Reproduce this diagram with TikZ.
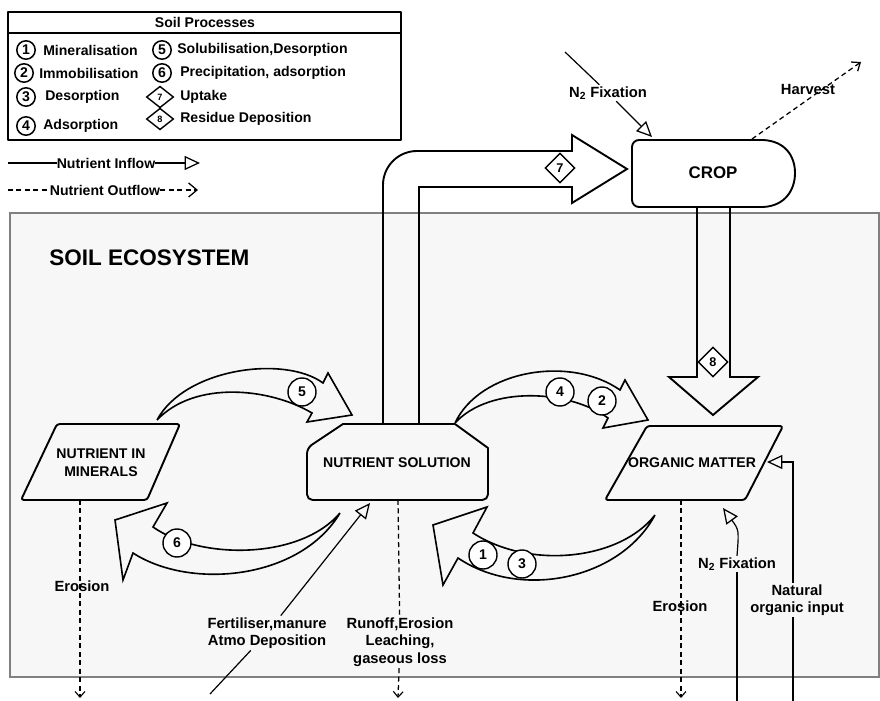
\documentclass[tikz,border=0pt]{standalone}
\usepackage{fontspec}
\setmainfont{Liberation Sans}
\usetikzlibrary{positioning,arrows.meta,shapes.geometric}

\begin{document}
\begin{tikzpicture}[x=0.025cm,y=-0.025cm]
\tikzset{T/.style={font=\bfseries\fontsize{10.5}{12.5}\selectfont,inner sep=1pt,align=center}}
\tikzset{L/.style={font=\bfseries\fontsize{10}{12}\selectfont,anchor=west,inner sep=0pt}}
\tikzset{S/.style={font=\bfseries\fontsize{10}{12.5}\selectfont,align=center,inner sep=0pt}}
\tikzset{N/.style={circle,draw=black,line width=1pt,fill=white,inner sep=0pt,minimum size=0.7cm,font=\bfseries\fontsize{10}{10}\selectfont}}
\tikzset{Ns/.style={N,minimum size=0.46cm,line width=1.1pt}}
\tikzset{D/.style={diamond,draw=black,line width=1pt,fill=white,inner sep=0pt,minimum size=0.75cm,font=\bfseries\fontsize{9}{9}\selectfont}}
\tikzset{Ds/.style={D,aspect=1.3,minimum size=0pt,minimum width=0.68cm,minimum height=0.54cm,font=\bfseries\fontsize{6.5}{6.5}\selectfont}}
\tikzset{box/.style={draw=black,line width=1.35pt,line join=round}}
\tikzset{flow/.style={draw=black,line width=1.15pt,line join=miter}}
\tikzset{inarr/.style={draw=black,line width=0.85pt,-{Triangle[open,length=11pt,width=10pt,line width=0.9pt]}}}
\tikzset{outarr/.style={draw=black,line width=0.9pt,dash pattern=on 3.5pt off 2.5pt,-{Straight Barb[length=4pt,width=7pt,line width=0.8pt]}}}

\useasboundingbox (0,0) rectangle (880,701);

% soil area
\draw[draw=black!50,line width=0.8pt,fill=black!3] (10,213) rectangle (879,677);
\node[font=\bfseries\fontsize{16}{18}\selectfont,anchor=west,inner sep=0pt] (soil) at (49,258) {SOIL ECOSYSTEM};

% legend
\draw[box] (8,12) rectangle (401,140);
\draw[box] (8,33) -- (401,33);
\node[L,anchor=center] (head) at (205,22) {Soil Processes};
\node[Ns] (k1) at (26,50) {1}; \node[L] (t1) at (43,50) {Mineralisation};
\node[Ns] (k2) at (24,73) {2}; \node[L] (t2) at (39,73) {Immobilisation};
\node[Ns] (k3) at (26,97) {3}; \node[L] (t3) at (45,97) {Desorption};
\node[Ns] (k4) at (26,126) {4}; \node[L] (t4) at (43,126) {Adsorption};
\node[Ns] (k5) at (162,50) {5}; \node[L] (t5) at (177,50) {Solubilisation,Desorption};
\node[Ns] (k6) at (162,73) {6}; \node[L] (t6) at (180,73) {Precipitation, adsorption};
\node[Ds] (k7) at (160,97) {7}; \node[L] (t7) at (180,97) {Uptake};
\node[Ds] (k8) at (160,119) {8}; \node[L] (t8) at (180,119) {Residue Deposition};

\coordinate (ia) at (8,163);
\coordinate (ib) at (200,163);
\node[L,anchor=center] (inlab) at (106,163) {Nutrient Inflow};
\draw[draw=black,line width=0.85pt] (ia) -- (inlab);
\draw[inarr] (inlab) -- (ib);
\coordinate (oa) at (8,190);
\coordinate (ob) at (198,190);
\node[L,anchor=center] (outlab) at (105,190) {Nutrient Outflow};
\draw[outarr,-] (oa) -- (outlab);
\draw[outarr,-{Straight Barb[length=6pt,width=10pt,line width=0.9pt]}] (outlab) -- (ob);

% pools
\draw[box,rounded corners=2pt] (57,424) -- (180,424) -- (147,500) -- (21,500) -- cycle;
\node[S] (min) at (101,463) {NUTRIENT IN\\MINERALS};
\draw[box] (343,424) -- (455,424) -- (488,448) [rounded corners=4pt] -- (488,500) -- (307,500) -- (307,448) [sharp corners] -- cycle;
\node[S] (sol) at (397,463) {NUTRIENT SOLUTION};
\draw[box,rounded corners=2pt] (647,426) -- (783,426) -- (745,500) -- (605,500) -- cycle;
\node[S] (org) at (692,463) {ORGANIC MATTER};
\draw[box] (763,140) -- (640,140) [rounded corners=5pt] -- (632,140) -- (632,207) [sharp corners] -- (763,207)
  .. controls (785,206) and (795,190) .. (795,173) .. controls (795,156) and (785,141) .. (763,140);
\node[font=\bfseries\fontsize{12}{14}\selectfont] (crop) at (713,173) {CROP};

% uptake and residue arrows
\draw[flow,line width=1.35pt] (383,424) [rounded corners=0.85cm] -- (383,151) [sharp corners] -- (572,151)
  -- (572,135) -- (627,169) -- (572,203) -- (572,187) -- (419,187) -- (419,424);
\node[D] (p7) at (560,168) {7};
\draw[flow,line width=1.35pt] (697,207) -- (697,377) -- (669,377) -- (713,415) -- (758,377) -- (730,377) -- (730,207);
\node[D] (p8) at (713,362) {8};

% transfers between pools
\draw[flow] (157,420) .. controls (185,368) and (285,355) .. (323,383) -- (328,373) -- (352,415) -- (307,422)
  -- (312,413) .. controls (270,388) and (195,380) .. (157,420);
\node[N] (p5) at (302,392) {5};
\draw[flow] (455,423) .. controls (480,370) and (570,355) .. (620,390) -- (625,380) -- (648,420) -- (603,428)
  -- (608,418) .. controls (570,390) and (490,385) .. (455,423);
\node[N] (p4) at (560,392) {4};
\node[N] (p2) at (602,401) {2};
\draw[flow] (340,513) .. controls (300,580) and (190,590) .. (133,553) -- (123,580) -- (115,520) -- (167,503)
  -- (153,527) .. controls (200,560) and (300,560) .. (340,513);
\node[N] (p6) at (177,543) {6};
\draw[flow] (655,515) .. controls (620,580) and (520,600) .. (458,558) -- (443,585) -- (433,525) -- (487,507)
  -- (473,533) .. controls (530,570) and (620,560) .. (655,515);
\node[N] (p1) at (483,555) {1};
\node[N] (p3) at (522,564) {3};

% crop inputs and outputs
\coordinate (na) at (565,52);
\coordinate (nb) at (652,137);
\node[T] (fix1) at (608,93) {N\textsubscript{2} Fixation};
\draw[draw=black,line width=0.85pt] (na) -- (fix1);
\draw[inarr] (fix1) -- (nb);
\coordinate (ha) at (752,139);
\coordinate (hb) at (861,62);
\node[T] (harv) at (808,89) {Harvest};
\draw[outarr,-{Straight Barb[length=5pt,width=8pt,line width=0.9pt]}] (ha) -- (hb);

% losses
\coordinate (e1a) at (80,500);
\coordinate (e1b) at (80,698);
\draw[outarr] (e1a) -- (e1b);
\node[T] (ero1) at (82,586) {Erosion};
\coordinate (e2a) at (398,500);
\coordinate (e2b) at (398,698);
\node[T] (run) at (400,642) {Runoff,Erosion\\Leaching,\\gaseous loss};
\draw[outarr,-] (e2a) -- (run);
\draw[outarr] (run) -- (e2b);
\coordinate (e3a) at (681,500);
\coordinate (e3b) at (681,698);
\draw[outarr] (e3a) -- (e3b);
\node[T] (ero3) at (680,606) {Erosion};

% soil inputs
\coordinate (fa) at (210,694);
\coordinate (fb) at (370,503);
\node[T] (fert) at (267,633) {Fertiliser,manure\\Atmo Deposition};
\draw[draw=black,line width=0.85pt] (fa) -- (fert);
\draw[inarr] (fert) -- (fb);
\coordinate (ga) at (737,701);
\coordinate (gb) at (723,508);
\node[T] (fix2) at (737,564) {N\textsubscript{2} Fixation};
\draw[draw=black,line width=0.85pt] (ga) -- (fix2);
\draw[inarr] (fix2.north) .. controls (739,530) .. (gb);
\coordinate (ka) at (793,701);
\coordinate (kb) at (767,462);
\node[T] (nat) at (797,600) {Natural\\organic input};
\draw[draw=black,line width=0.85pt] (ka) -- (ka |- nat.south);
\draw[inarr] (ka |- nat.north) |- (kb);
\end{tikzpicture}
\end{document}
